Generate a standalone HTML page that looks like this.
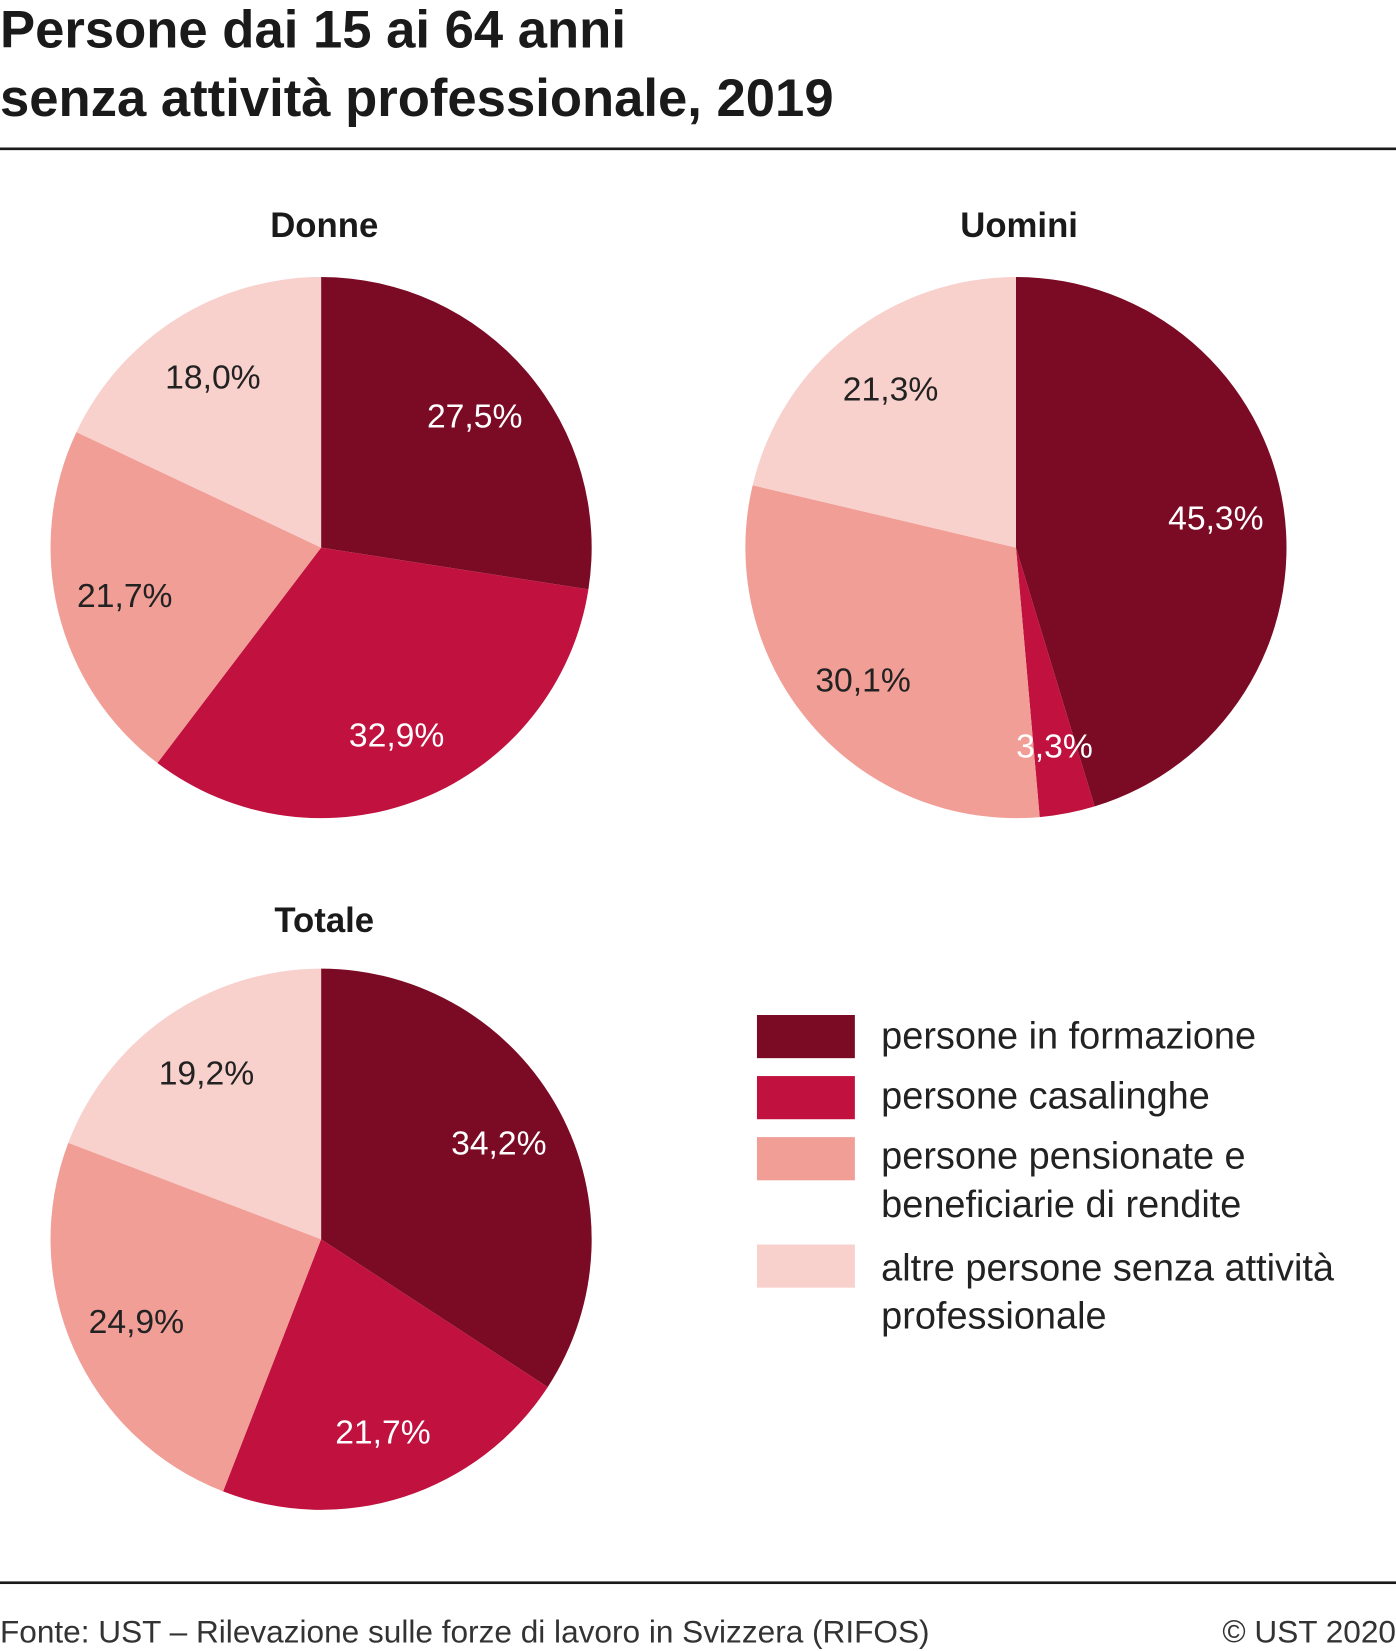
<!DOCTYPE html>
<html><head><meta charset="utf-8">
<style>
html,body{margin:0;padding:0;background:#fff;}
svg{display:block;}
text{font-family:"Liberation Sans",sans-serif;}
</style></head>
<body>
<svg id="chart" width="1396" height="1651" viewBox="0 0 1326 1568" xmlns="http://www.w3.org/2000/svg">
  <text x="0" y="45" font-size="50" font-weight="bold" fill="#1a1a1a">Persone dai 15 ai 64 anni</text>
  <text x="0" y="110" font-size="50" font-weight="bold" fill="#1a1a1a">senza attività professionale, 2019</text>
  <rect x="0" y="140" width="1326" height="2.5" fill="#1a1a1a"/>
  <g id="pies"></g>
  <g id="labels"></g>
  <g>
    <rect x="719" y="964" width="93" height="41" fill="#7b0b24"/>
    <rect x="719" y="1022" width="93" height="41" fill="#c0113f"/>
    <rect x="719" y="1080" width="93" height="41" fill="#f19e96"/>
    <rect x="719" y="1182" width="93" height="41" fill="#f8d0cc"/>
    <g font-size="36" fill="#222">
      <text x="837" y="996">persone in formazione</text>
      <text x="837" y="1053">persone casalinghe</text>
      <text x="837" y="1110">persone pensionate e</text>
      <text x="837" y="1156">beneficiarie di rendite</text>
      <text x="837" y="1216">altre persone senza attività</text>
      <text x="837" y="1262">professionale</text>
    </g>
  </g>
  <rect x="0" y="1502" width="1326" height="2.5" fill="#1a1a1a"/>
  <text x="0" y="1560" font-size="30" fill="#333">Fonte: UST – Rilevazione sulle forze di lavoro in Svizzera (RIFOS)</text>
  <text x="1326" y="1560" font-size="30" fill="#333" text-anchor="end">© UST 2020</text>
</svg>
<script>
const pieTitles = ["Donne", "Uomini", "Totale"];
const donneValues = [27.5, 32.9, 21.7, 18.0];
const uominiValues = [45.3, 3.3, 30.1, 21.3];
const totaleValues = [34.2, 21.7, 24.9, 19.2];
const donneLabels = ["27,5%", "32,9%", "21,7%", "18,0%"];
const uominiLabels = ["45,3%", "3,3%", "30,1%", "21,3%"];
const totaleLabels = ["34,2%", "21,7%", "24,9%", "19,2%"];

const colors = ["#7b0b24", "#c0113f", "#f19e96", "#f8d0cc"];
const textColors = ["#fff", "#fff", "#222", "#222"];
const slugs = ["formazione", "casalinghe", "pensionate", "altre"];
const layout = [{cx:305, cy:520, ty:225}, {cx:965, cy:520, ty:225}, {cx:305, cy:1177, ty:885}];
const R = 257;
const NS = "http://www.w3.org/2000/svg";
const g = document.getElementById("pies");
const lg = document.getElementById("labels");

function pt(cx, cy, r, frac) {
  const a = frac * 2 * Math.PI;
  return [cx + r * Math.sin(a), cy - r * Math.cos(a)];
}

function drawPie(idx, values, labels) {
  const L = layout[idx];
  const total = values.reduce((a, b) => a + b, 0);
  const title = document.createElementNS(NS, "text");
  
  
  title.setAttribute("x", L.cx + 3);
  title.setAttribute("y", L.ty);
  title.setAttribute("font-size", "33");
  title.setAttribute("font-weight", "bold");
  title.setAttribute("text-anchor", "middle");
  title.setAttribute("fill", "#1a1a1a");
  title.textContent = pieTitles[idx];
  g.appendChild(title);
  let acc = 0;
  values.forEach((v, i) => {
    const f0 = acc / total, f1 = (acc + v) / total;
    acc += v;
    const p0 = pt(L.cx, L.cy, R, f0), p1 = pt(L.cx, L.cy, R, f1);
    const large = (f1 - f0) > 0.5 ? 1 : 0;
    const path = document.createElementNS(NS, "path");
    
    
    path.setAttribute("d", `M${L.cx},${L.cy} L${p0[0]},${p0[1]} A${R},${R} 0 ${large} 1 ${p1[0]},${p1[1]} Z`);
    path.setAttribute("fill", colors[i]);
    g.appendChild(path);
    const m = pt(L.cx, L.cy, 192, (f0 + f1) / 2);
    const t = document.createElementNS(NS, "text");
    
    
    t.setAttribute("x", m[0]);
    t.setAttribute("y", m[1] + 11);
    t.setAttribute("font-size", "32");
    t.setAttribute("text-anchor", "middle");
    t.setAttribute("fill", textColors[i]);
    t.textContent = labels[i];
    lg.appendChild(t);
  });
}
drawPie(0, donneValues, donneLabels);
drawPie(1, uominiValues, uominiLabels);
drawPie(2, totaleValues, totaleLabels);
</script>
</body></html>
